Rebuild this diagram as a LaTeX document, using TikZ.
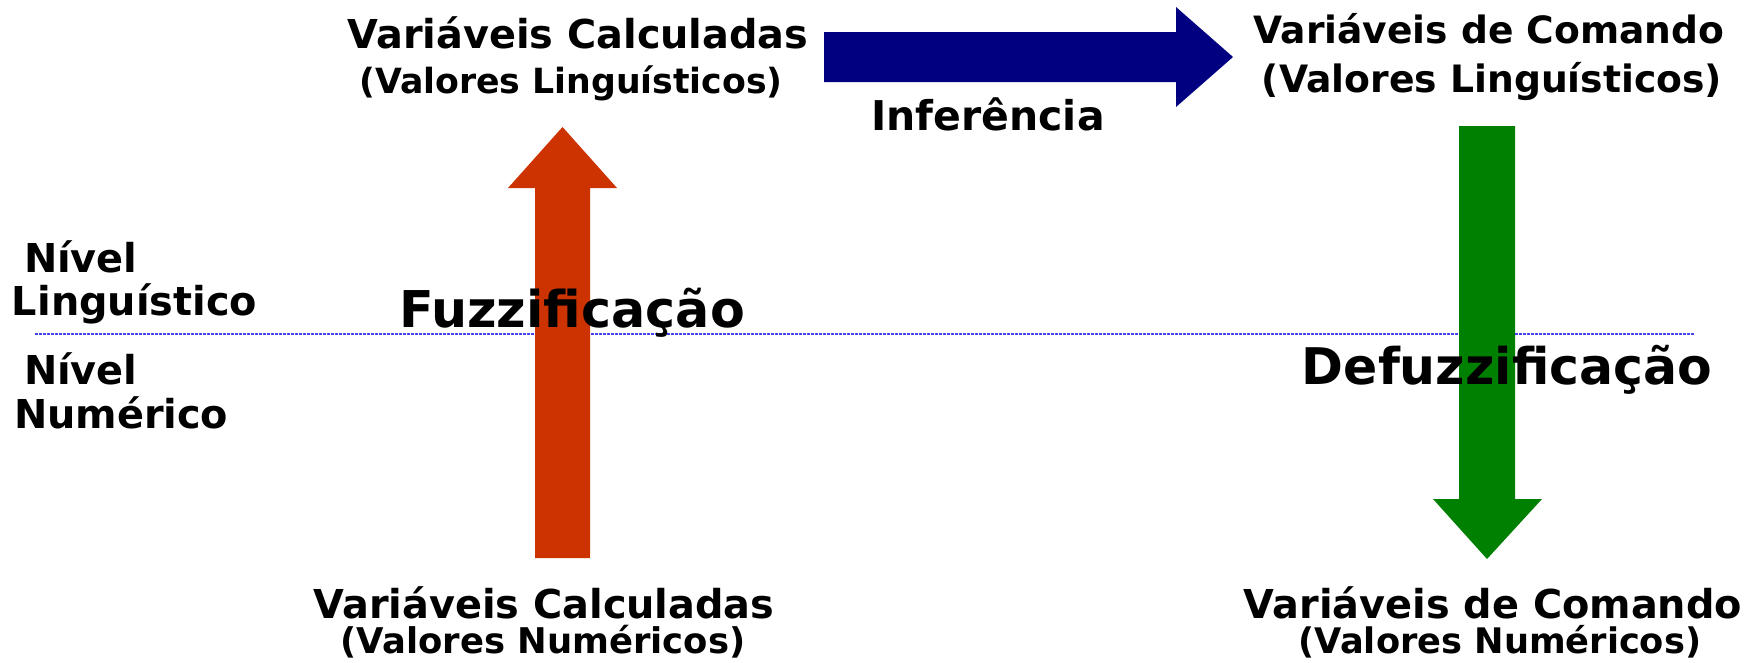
\documentclass[tikz,border=0pt]{standalone}
\usepackage{fontspec}
\setmainfont{DejaVu Sans}[BoldFont=DejaVu Sans Bold]
\definecolor{fuzred}{HTML}{CC3300}
\definecolor{infblue}{HTML}{000080}
\definecolor{defgreen}{HTML}{008000}
\definecolor{lineblue}{HTML}{4444EE}
\begin{document}
\begin{tikzpicture}[x=1pt,y=-1pt,
  lbl/.style={inner sep=0pt,outer sep=0pt,font=\bfseries},
  fs/.style={font=\bfseries\fontsize{#1}{#1}\selectfont}]
\useasboundingbox (0,0) rectangle (1758,662);
% level separator
\draw[lineblue,line width=1.1pt,dash pattern=on 3pt off 1pt] (35,334) coordinate (sepL) -- (1695,334) coordinate (sepR);
% fuzzification arrow (up)
\fill[fuzred] (535,558) -- (590,558) -- (590,188) -- (617,188) -- (562.5,127) -- (508,188) -- (535,188) -- cycle;
% inference arrow (right)
\fill[infblue] (824,32) -- (1176,32) -- (1176,7) -- (1233,57) -- (1176,107) -- (1176,82) -- (824,82) -- cycle;
% defuzzification arrow (down)
\fill[defgreen] (1459,126) -- (1515,126) -- (1515,499) -- (1542,499) -- (1487,559) -- (1433,499) -- (1459,499) -- cycle;
% texts
\node[lbl,fs=39.8,anchor=base] (vct) at (578,48) {Variáveis Calculadas};
\node[lbl,fs=34.7,anchor=base] (vlt) at (571,93) {(Valores Linguísticos)};
\node[lbl,fs=41,anchor=base] (inf) at (988,130) {Inferência};
\node[lbl,fs=37.6,anchor=base] (vcm) at (1489,43) {Variáveis de Comando};
\node[lbl,fs=37.7,anchor=base] (vlr) at (1492,92) {(Valores Linguísticos)};
\node[lbl,fs=39.8,anchor=base west] (n1) at (24,272) {Nível};
\node[lbl,fs=39.8,anchor=base west] (l1) at (12,315) {Linguístico};
\node[lbl,fs=39.8,anchor=base west] (n2) at (24,384) {Nível};
\node[lbl,fs=39.8,anchor=base west] (nu) at (14,428) {Numérico};
\node[lbl,fs=50.7,anchor=base] (fuz) at (572,327) {Fuzzificação};
\node[lbl,fs=50.5,anchor=base] (def) at (1507,384) {Defuzzificação};
\node[lbl,fs=39.8,anchor=base] (vcb) at (544,618) {Variáveis Calculadas};
\node[lbl,fs=35.4,anchor=base] (vnl) at (543,653) {(Valores Numéricos)};
\node[lbl,fs=39.8,anchor=base] (vcmb) at (1493,618) {Variáveis de Comando};
\node[lbl,fs=35.2,anchor=base] (vnr) at (1500,653) {(Valores Numéricos)};
\end{tikzpicture}
\end{document}
